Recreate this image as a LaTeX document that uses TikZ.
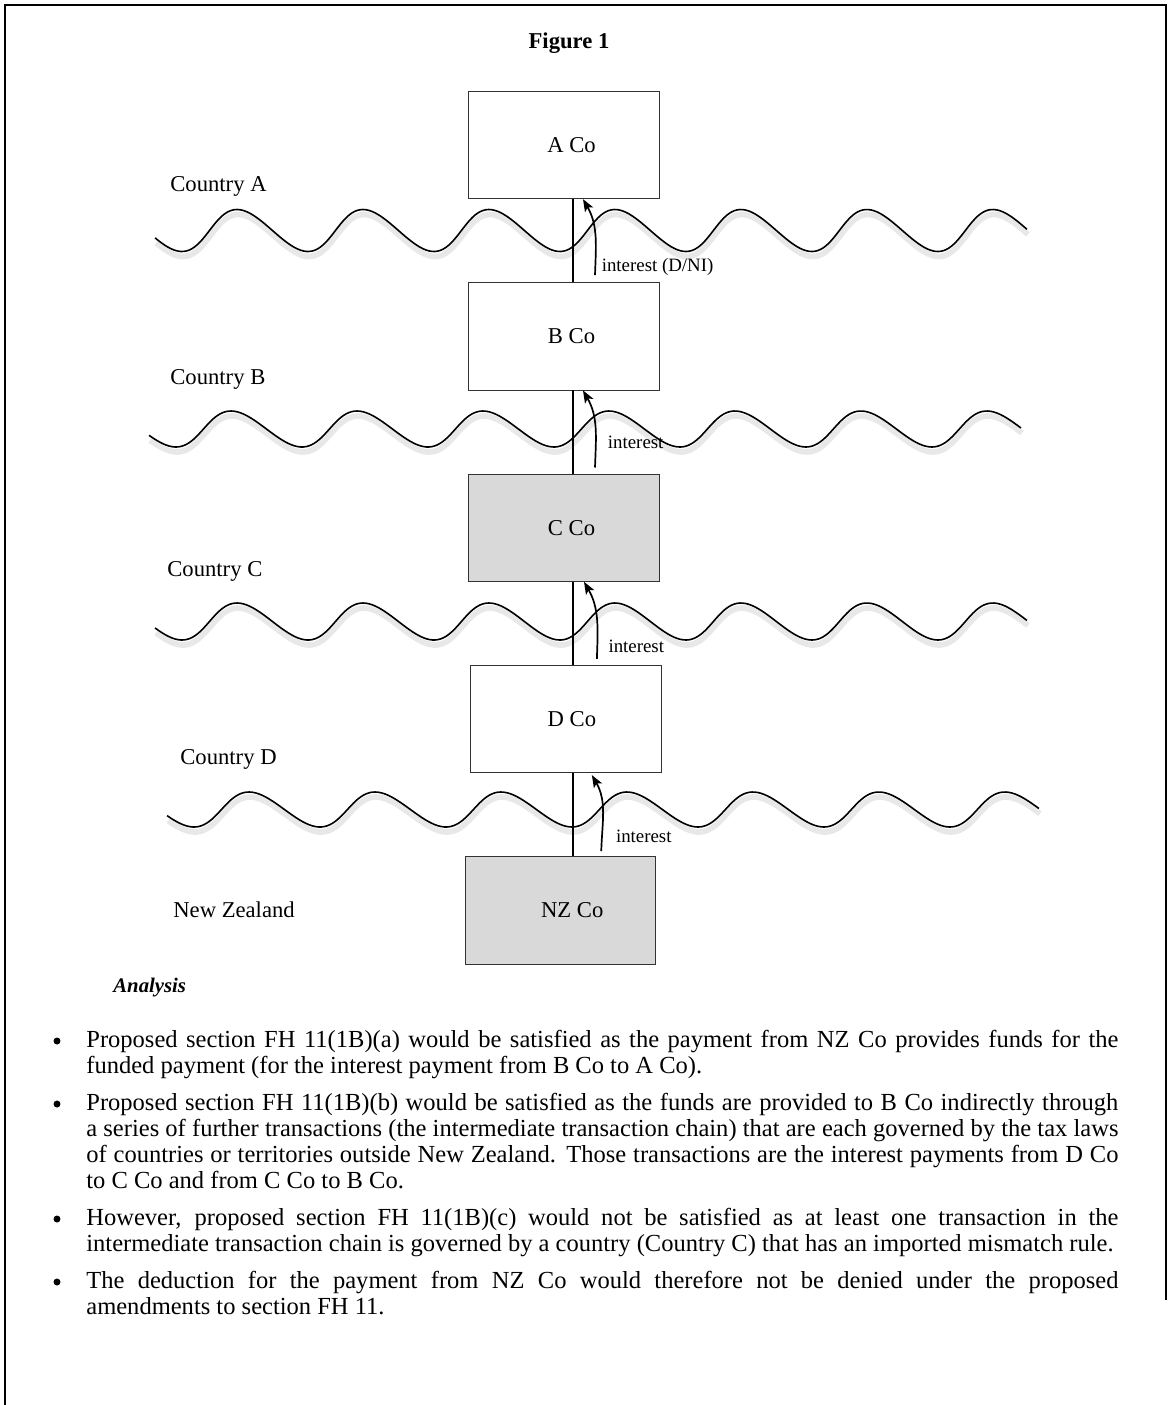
\documentclass[tikz,border=0pt]{standalone}
\usepackage{fontspec}
\setmainfont{Liberation Serif}
\usetikzlibrary{arrows.meta,positioning}

\begin{document}
\begin{tikzpicture}[x=0.53pt,y=-0.53pt,>={Stealth[length=6.5pt,width=5pt,inset=1.5pt]},
                    node distance=44pt,
                    font=\fontsize{12}{13.8}\selectfont]
\tikzstyle{every node}=[]
\tikzstyle{company}=[draw=black!80,thin,minimum width=101pt,minimum height=57pt,inner sep=0pt]
\tikzstyle{taxed}=[company,fill=black!15]
\tikzstyle{country}=[anchor=west,inner sep=0pt]
\tikzstyle{flow}=[->,line width=0.9pt]
\tikzstyle{payment}=[anchor=west,inner sep=1pt,font=\fontsize{10}{12}\selectfont]
\tikzstyle{wave line}=[line width=0.85pt]
\tikzstyle{wave shade}=[line width=3pt,black!9]
\tikzstyle{point}=[text width=547pt,align=justify,anchor=base west,inner sep=0pt,
                   font=\fontsize{13}{13.8}\selectfont]
\tikzstyle{bullet}=[circle,fill,inner sep=0pt,minimum size=3.7pt]

\useasboundingbox (0,0) rectangle (1172,1405);

% frame
\draw[line width=1pt] (5,1405) -- (5,5) -- (1166,5) -- (1166,1300);

\node[font=\fontsize{12}{13.8}\selectfont\bfseries] (title) at (569,43) {Figure 1};

% the borders between countries
\foreach \dx/\yc/\amp in {0/230.5/21, -6/429/18, 0/621.5/18.5, 12/809.5/17.5}{
  \draw[wave shade,shift={(\dx+1,5)}] plot[smooth,domain=3.5:47.07,samples=300,variable=\t]
    ({83.5+20.05*\t-4*sin(\t r)},{\yc-\amp*sin(\t r)});
  \draw[wave line,shift={(\dx,0)}] plot[smooth,domain=3.5:47.07,samples=300,variable=\t]
    ({83.5+20.05*\t-4*sin(\t r)},{\yc-\amp*sin(\t r)});
}

\node[country] (cA) at (170,186) {Country A};
\node[country] (cB) at (170,379) {Country B};
\node[country] (cC) at (167,571) {Country C};
\node[country] (cD) at (180,759) {Country D};
\node[country] (cNZ) at (173,910) {New Zealand};

% companies
\node[company] (ACo) at (564,145) {\hspace*{8pt}A Co};
\node[company] (BCo) [below=of ACo] {\hspace*{8pt}B Co};
\node[taxed] (CCo) [below=of BCo] {\hspace*{8pt}C Co};
\node[company] (DCo) [below=of CCo,xshift=1pt] {\hspace*{6.4pt}D Co};
\node[taxed] (NZCo) [below=of DCo,xshift=-3pt] {\hspace*{12.7pt}NZ Co};

\coordinate (axis) at (573,0);
\draw[line width=0.8pt] (ACo.south -| axis) -- (BCo.north -| axis)
      (BCo.south -| axis) -- (CCo.north -| axis)
      (CCo.south -| axis) -- (DCo.north -| axis)
      (DCo.south -| axis) -- (NZCo.north -| axis);

% interest payments
\draw[flow] ([shift={(31,-7)}]BCo.north) to[out=88,in=-60]
      node[payment,pos=0.09,xshift=2pt] (iA) {interest (D/NI)} ([shift={(19,0)}]ACo.south);
\draw[flow] ([shift={(31,-6)}]CCo.north) to[out=88,in=-60]
      node[payment,pos=0.3,xshift=5pt] (iB) {interest} ([shift={(19,0)}]BCo.south);
\draw[flow] ([shift={(31,-6)}]DCo.north) to[out=88,in=-60]
      node[payment,pos=0.14,xshift=4.5pt] (iC) {interest} ([shift={(20,0)}]CCo.south);
\draw[flow] ([shift={(41,-5)}]NZCo.north) to[out=88,in=-60]
      node[payment,pos=0.17,xshift=6pt] (iD) {interest} ([shift={(26,2)}]DCo.south);

% analysis
\node[anchor=west,inner sep=0pt,font=\fontsize{11}{13}\selectfont\bfseries\itshape] (analysis) at (113,988) {Analysis};

\node[bullet] (b1) at (57,1041) {};
\node[point] (p1) at (86,1047) {Proposed section FH 11(1B)(a) would be satisfied as the payment from NZ Co provides funds for the\linebreak
funded payment (for the interest payment from B Co to A Co).};
\node[bullet] (b2) at (57,1104) {};
\node[point] (p2) at (86,1110) {Proposed section FH 11(1B)(b) would be satisfied as the funds are provided to B Co indirectly through\linebreak
a series of further transactions (the intermediate transaction chain) that are each governed by the tax laws\linebreak
of countries or territories outside New Zealand. Those transactions are the interest payments from D Co\linebreak
to C Co and from C Co to B Co.};
\node[bullet] (b3) at (57,1219) {};
\node[point] (p3) at (86,1225) {However, proposed section FH 11(1B)(c) would not be satisfied as at least one transaction in the\linebreak
intermediate transaction chain is governed by a country (Country C) that has an imported mismatch rule.};
\node[bullet] (b4) at (57,1282) {};
\node[point] (p4) at (86,1288) {The deduction for the payment from NZ Co would therefore not be denied under the proposed\linebreak
amendments to section FH 11.};
\end{tikzpicture}
\end{document}
